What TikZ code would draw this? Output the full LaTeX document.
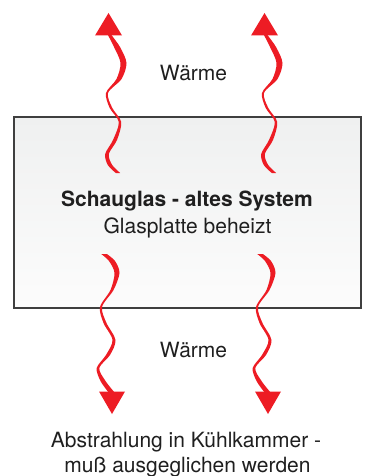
\documentclass[tikz,border=0pt]{standalone}
\usepackage{fontspec}
\setmainfont{TeX Gyre Heros}
\definecolor{heatred}{HTML}{ED1C24}
\definecolor{framegray}{HTML}{3F3F3F}
\definecolor{glasstop}{HTML}{EFF0F0}
\definecolor{glassbot}{HTML}{FCFCFC}
\tikzset{
  label/.style={inner sep=0pt, anchor=base, font=\fontsize{21}{25}\selectfont, text=black!88},
  ribbon/.style={fill=heatred, draw=none},
}
% twisted heat ribbon rising upwards, with its arrow head
\newcommand\ribbonup{%
  \fill[ribbon] plot[smooth] coordinates {(107.4,34) (114,47) (120.5,63) (116.5,79) (106,93) (109.7,108) (118.8,122) (113,140) (105.2,154) (107.8,165) (115.8,173)}
    -- plot[smooth] coordinates {(120.2,173) (112.2,165) (108.8,154) (117,140) (121.2,122) (112.3,108) (108,93) (121.5,79) (126.5,63) (120,47) (110.6,34)} -- cycle;
  \fill[ribbon] (95,35.5) -- (108.5,13) -- (122,35.5) -- cycle;}
% twisted heat ribbon falling downwards, with its arrow head
\newcommand\ribbondown{%
  \fill[ribbon] plot[smooth] coordinates {(101.2,254) (109,261) (114.5,273) (110.5,290) (100,307) (103.5,323) (112.5,340) (106,355) (96.7,368) (100.5,381) (109,393)}
    -- plot[smooth] coordinates {(115,393) (105.5,381) (99.3,368) (110,355) (115.5,340) (106.5,323) (102,307) (113.5,290) (119.5,273) (115,261) (106.8,254)} -- cycle;
  \fill[ribbon] (99,391.5) -- (112,414) -- (125,391.5) -- cycle;}
\begin{document}
\begin{tikzpicture}[x=1pt, y=-1pt]
  \useasboundingbox (0,0) rectangle (367,476);
  % heated glass plate
  \shade[top color=glasstop, bottom color=glassbot] (14,117) rectangle (361,308);
  \draw[framegray, line width=1.1pt] (14,117) rectangle (361,308);
  \node[label, font=\fontsize{21}{25}\selectfont\bfseries] (title) at (187,206) {Schauglas - altes System};
  \node[label] (sub) at (187.5,233) {Glasplatte beheizt};
  % heat flowing out of the plate
  \ribbonup
  \begin{scope}[xshift=156pt]\ribbonup\end{scope}
  \ribbondown
  \begin{scope}[xshift=156pt]\ribbondown\end{scope}
  \node[label] (heattop) at (193.5,81) {Wärme};
  \node[label] (heatbot) at (193.5,357) {Wärme};
  \node[label] (loss1) at (186,447) {Abstrahlung in Kühlkammer -};
  \node[label] (loss2) at (187.5,472.5) {muß ausgeglichen werden};
\end{tikzpicture}
\end{document}
